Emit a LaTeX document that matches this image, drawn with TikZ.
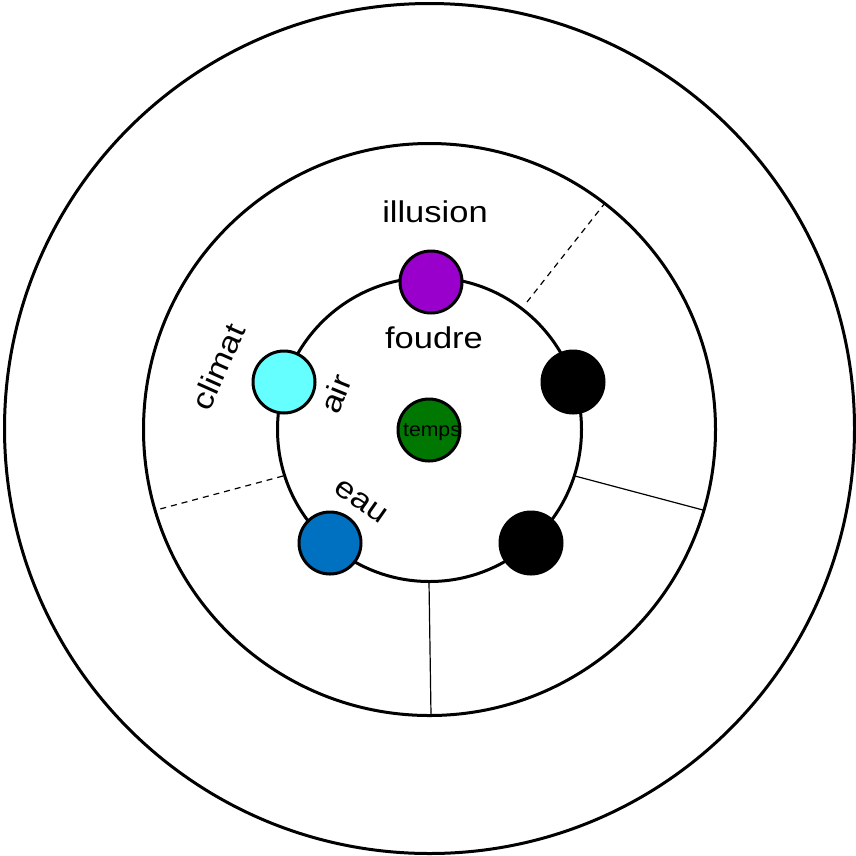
\documentclass[tikz,border=0pt]{standalone}
\usepackage{fontspec}
\setmainfont{Liberation Sans}
\definecolor{cpurple}{HTML}{9900CC}
\definecolor{ccyan}{HTML}{66FFFF}
\definecolor{cblue}{HTML}{0070C0}
\definecolor{cgreen}{HTML}{007700}
\newcommand{\wide}[1]{\scalebox{1.15}[1]{#1}}
\begin{document}
\begin{tikzpicture}[x=1pt,y=-1pt,
  ring/.style={draw,line width=3pt,circle,inner sep=0pt},
  dot/.style={draw,line width=3pt,circle,minimum size=62pt,inner sep=0pt},
  biglabel/.style={font=\fontsize{30}{30}\selectfont,inner sep=0pt},
  divline/.style={line width=1.2pt},
  divdash/.style={line width=1.2pt,dash pattern=on 6pt off 5pt}]
\useasboundingbox (0,0) rectangle (856,855);
\node[ring,minimum size=850pt] (outer) at (429.5,428.5) {};
\node[ring,minimum size=572pt] (middle) at (429.5,429.5) {};
\node[ring,minimum size=304pt] (inner) at (429.5,429.5) {};
% divider lines
\coordinate (d1a) at (527,302); \coordinate (d1b) at (605,203);
\coordinate (d2a) at (283,476); \coordinate (d2b) at (160,509);
\coordinate (d3a) at (575,476); \coordinate (d3b) at (703,510);
\coordinate (d4a) at (429,582); \coordinate (d4b) at (431,715);
\draw[divdash] (d1a) -- (d1b);
\draw[divdash] (d2a) -- (d2b);
\draw[divline] (d3a) -- (d3b);
\draw[divline] (d4a) -- (d4b);
% dots
\node[dot,fill=cpurple] (illusiondot) at (431,282) {};
\node[dot,fill=ccyan] (airdot) at (284,382) {};
\node[dot,fill=cblue] (eaudot) at (330,543) {};
\node[dot,fill=black] (black1) at (573,382) {};
\node[dot,fill=black] (black2) at (531,543) {};
\node[dot,fill=cgreen] (tempsdot) at (429,430) {};
% labels
\node[biglabel] (illusion) at (435,212) {\wide{illusion}};
\node[biglabel] (foudre) at (434,338) {\wide{foudre}};
\node[biglabel,rotate=66] (climat) at (218,367) {\wide{climat}};
\node[biglabel,rotate=68] (air) at (336,394) {\wide{air}};
\node[biglabel,rotate=-35] (eau) at (361,502) {\wide{eau}};
\node[font=\fontsize{20}{20}\selectfont,inner sep=0pt] (temps) at (432,432) {\scalebox{1.06}[1]{temps}};
\end{tikzpicture}
\end{document}
